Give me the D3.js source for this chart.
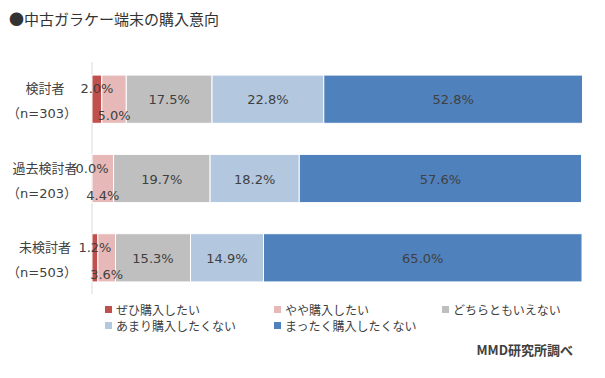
<!DOCTYPE html>
<html><head><meta charset="utf-8">
<script src="https://cdn.jsdelivr.net/npm/d3@7/dist/d3.min.js"></script>
<style>body{margin:0;background:#fff}svg{display:block;font-family:"Noto Sans CJK JP","Noto Sans",sans-serif}</style>
</head><body><svg id="c" width="605" height="378"></svg>
<script>
const title = "●中古ガラケー端末の購入意向";
const categories = ["検討者", "過去検討者", "未検討者"];
const sampleLabels = ["（n=303）", "（n=203）", "（n=503）"];
const seriesNames = ["ぜひ購入したい", "やや購入したい", "どちらともいえない", "あまり購入したくない", "まったく購入したくない"];
const colors = ["#c0504d", "#e6b9b8", "#bfbfbf", "#b3c7df", "#4f81bd"];
const s1 = [2.0, 0.0, 1.2];
const s2 = [5.0, 4.4, 3.6];
const s3 = [17.5, 19.7, 15.3];
const s4 = [22.8, 18.2, 14.9];
const s5 = [52.8, 57.6, 65.0];
const series = [s1, s2, s3, s4, s5];
const source = "MMD研究所調べ";

const numFont = '"DejaVu Sans","Noto Sans CJK JP",sans-serif';
const svg = d3.select("#c");
const x = d3.scaleLinear().domain([0, 100]).range([92, 582]);
const y = d3.scaleBand().domain(categories).range([60, 297]).paddingInner(0.392).paddingOuter(0.19);

svg.append("text").attr("x", 9).attr("y", 25).attr("font-size", 15).attr("fill", "#333").text(title);

svg.append("line").attr("x1", x(0)).attr("x2", x(0)).attr("y1", 62).attr("y2", 294).attr("stroke", "#d9d9d9");

const stacks = categories.map((c, i) => {
  let acc = 0;
  return series.map((s, k) => { const v = s[i]; const r = {cat: c, k, v, x0: acc, x1: acc + v}; acc += v; return r; });
});
const flat = stacks.flat();

svg.append("g").selectAll("rect").data(flat).join("rect")
  .attr("x", d => x(d.x0)).attr("y", d => y(d.cat))
  .attr("width", d => Math.max(0, x(d.x1) - x(d.x0))).attr("height", y.bandwidth())
  .attr("fill", d => colors[d.k]).attr("stroke", "#fff").attr("stroke-width", d => d.v > 0 ? 1 : 0);

svg.append("g").selectAll("text").data(flat).join("text")
  .attr("x", d => (x(d.x0) + x(d.x1)) / 2)
  .attr("y", d => {
    const cy = y(d.cat) + y.bandwidth() / 2;
    if (d.k === 0) return cy - 6;
    if (d.k === 1) return cy + 21;
    return cy + 5;
  })
  .attr("text-anchor", "middle").attr("font-size", 13).style("font-family", numFont)
  .attr("fill", "#404040").text(d => d.v.toFixed(1) + "%");

categories.forEach((c, i) => {
  const cy = y(c) + y.bandwidth() / 2;
  svg.append("text").attr("x", 45).attr("y", cy - 6).attr("text-anchor", "middle").attr("font-size", 13).attr("fill", "#404040").text(c);
  svg.append("text").attr("x", 42).attr("y", cy + 19).attr("text-anchor", "middle").attr("font-size", 13).style("font-family", numFont).attr("fill", "#404040").text(sampleLabels[i]);
});

const legX = [107, 276, 444];
seriesNames.forEach((n, k) => {
  const lx = legX[k % 3], ly = k < 3 ? 310 : 326;
  svg.append("rect").attr("x", lx - 2).attr("y", ly - 4).attr("width", 7).attr("height", 7).attr("fill", colors[k]);
  svg.append("text").attr("x", lx + 9).attr("y", ly + 4.5).attr("font-size", 12).attr("fill", "#404040").text(n);
});

svg.append("text").attr("x", 573).attr("y", 355).attr("text-anchor", "end").attr("font-size", 13).attr("font-weight", "bold").attr("fill", "#404040").text(source);
</script></body></html>
